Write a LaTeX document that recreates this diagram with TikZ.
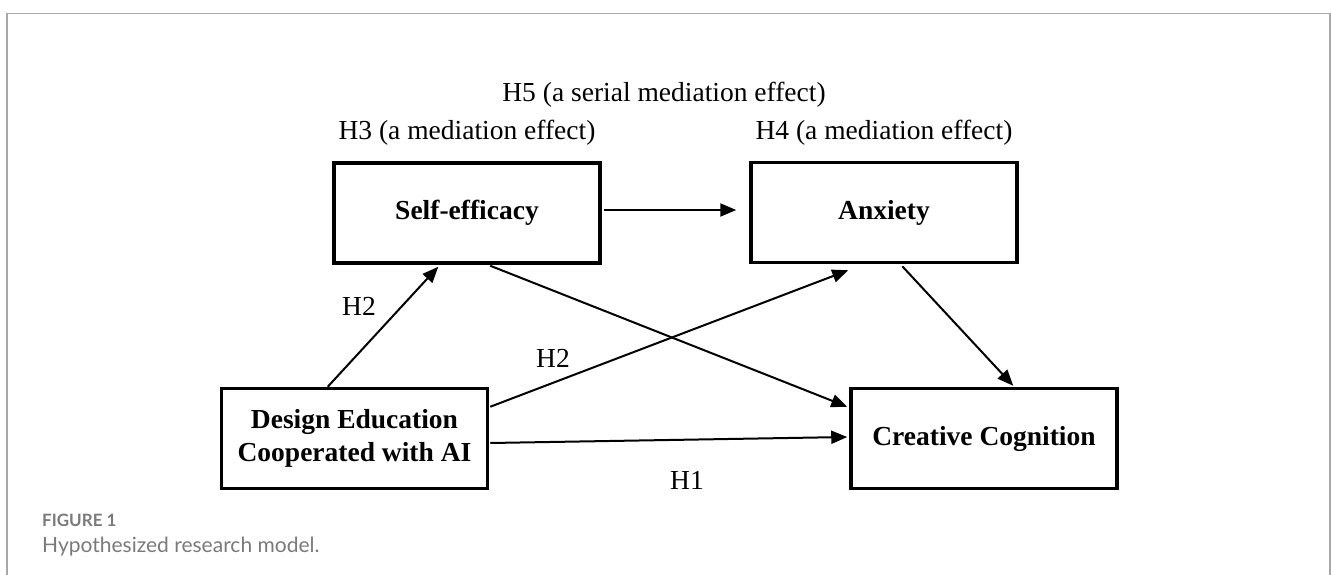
\documentclass[tikz,border=0pt]{standalone}
\usepackage{fontspec}
\setmainfont{Liberation Serif}
\newfontfamily\capfont{Lato}
\usetikzlibrary{arrows.meta,calc}
\definecolor{framegray}{HTML}{A8A8A8}
\definecolor{capgray}{HTML}{7A7A7A}
\tikzset{
  box/.style={draw=black, line width=3.5pt, minimum width=266pt, minimum height=100pt, inner sep=0pt, align=center, font=\fontsize{27.5}{33}\selectfont\bfseries},
  arr/.style={-{Triangle[length=16pt,width=13pt]}, line width=2pt, shorten >=0pt},
  lbl/.style={font=\fontsize{27.5}{33}\selectfont, inner sep=0pt},
}
\begin{document}
\begin{tikzpicture}[x=1pt,y=-1pt]
\useasboundingbox (0,0) rectangle (1331,575);
\draw[framegray, line width=1.5pt] (7,580) -- (7,13.5) -- (1330,13.5) -- (1330,580);
\node[box] (self) at (467,213) {Self-efficacy};
\node[box] (anx) at (884,212.5) {Anxiety};
\node[box] (des) at (354.5,438.5) {Design Education\\Cooperated with AI};
\node[box] (cre) at (984,438.5) {Creative Cognition};
\node[lbl] (h5) at (664,95) {H5 (a serial mediation effect)};
\node[lbl] (h3) at (467,133) {H3 (a mediation effect)};
\node[lbl] (h4) at (884,133) {H4 (a mediation effect)};
\node[lbl] (h2a) at (359,306) {H2};
\node[lbl] (h2b) at (553,358) {H2};
\node[lbl] (h1) at (687,480) {H1};
\draw[arr] ($(self.east)+(2,-3)$) -- ($(anx.west)+(-13,-2.5)$);
\draw[arr] ($(des.north west)+(108,0)$) -- ($(self.south west)+(106,2)$);
\draw[arr] ($(des.north east)+(1,20)$) -- ($(anx.south west)+(99,6)$);
\draw[arr] ($(self.south west)+(158,1)$) -- ($(cre.north west)+(-2,20)$);
\draw[arr] ($(des.east)+(1,4.5)$) -- ($(cre.west)+(-2,-1.5)$);
\draw[arr] ($(anx.south west)+(153,2)$) -- ($(cre.north west)+(164,-1)$);
\node[anchor=west, inner sep=0pt, text=capgray, font=\capfont\bfseries\fontsize{17}{20}\selectfont] (fig) at (42,520) {FIGURE 1};
\node[anchor=west, inner sep=0pt, text=capgray, font=\capfont\fontsize{21}{25}\selectfont] (cap) at (42,547) {Hypothesized research model.};
\end{tikzpicture}
\end{document}
